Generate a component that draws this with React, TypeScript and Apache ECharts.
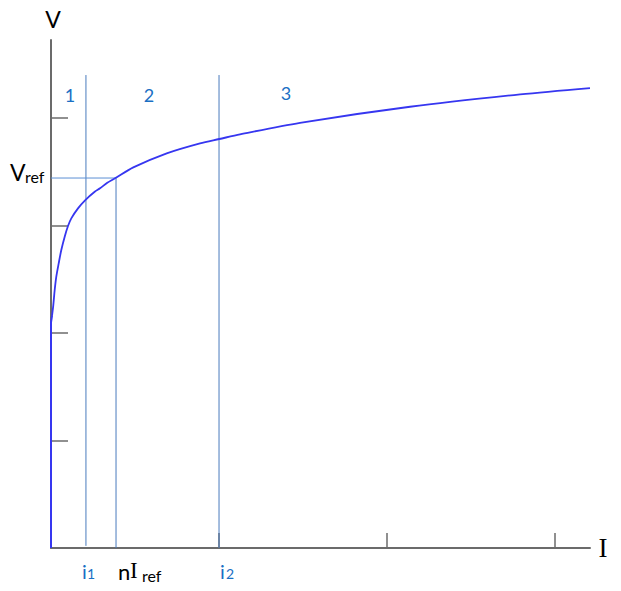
import React, { useEffect, useRef } from "react";
import * as echarts from "echarts";

// Curve V(I) (I in x-tick units, V in y-tick units)
const curveI = [0.006, 0.0137, 0.022, 0.0315, 0.0458, 0.0613, 0.0815, 0.1012, 0.1208, 0.1607, 0.2042, 0.2601, 0.2917, 0.3351, 0.381, 0.4899, 0.6887, 0.8869, 1.0018, 1.125, 1.482, 2.137, 2.792, 3.208];
const curveV = [2.16, 2.26, 2.4, 2.524, 2.648, 2.772, 2.896, 2.995, 3.067, 3.16, 3.237, 3.314, 3.346, 3.398, 3.439, 3.541, 3.672, 3.765, 3.805, 3.848, 3.956, 4.105, 4.22, 4.279];
// vertical drop of the curve along the V axis
const dropI = [0, 0, 0.006];
const dropV = [0, 2.1, 2.16];

const xTicks = [1, 2, 3];
const yTicks = [1, 2, 3, 4];
const xMax = 3.208;
const yMax = 4.726;

const i1 = 0.208;
const nIref = 0.387;
const i2 = 1.0;
const vRef = 3.442;
const lineTop = 4.4;

export default function App() {
  const ref = useRef<HTMLDivElement>(null);
  useEffect(() => {
    if (!ref.current) return;
    const chart = echarts.init(ref.current, undefined, { renderer: "svg" });
    const axisColor = "#6b6b6b";
    const guide = "#4a7bbd";
    const blueText = "#1a6fc4";
    const sans = "Lato, 'Open Sans', sans-serif";
    const serif = "'Liberation Serif', 'DejaVu Serif', serif";
    const vline = (x: number, y0: number, y1: number, color: string) => ({
      type: "line",
      data: [[x, y0], [x, y1]],
      symbol: "none",
      silent: true,
      lineStyle: { color, width: 1 },
      z: 1,
    });
    chart.setOption({
      animation: false,
      backgroundColor: "#ffffff",
      grid: { left: 51, right: 31, top: 40, bottom: 43 },
      xAxis: {
        type: "value",
        min: 0,
        max: xMax,
        splitLine: { show: false },
        axisLine: { show: true, lineStyle: { color: axisColor, width: 2 } },
        axisTick: { show: true, inside: true, length: 15, customValues: xTicks, lineStyle: { color: axisColor, width: 1.5 } },
        axisLabel: { show: false },
      },
      yAxis: {
        type: "value",
        min: 0,
        max: yMax,
        splitLine: { show: false },
        axisLine: { show: true, lineStyle: { color: axisColor, width: 2 } },
        axisTick: { show: true, inside: true, length: 17, customValues: yTicks, lineStyle: { color: axisColor, width: 1.5 } },
        axisLabel: { show: false },
      },
      series: [
        vline(i1, 0.02, lineTop, guide),
        vline(nIref, 0, vRef, guide),
        vline(i2, 0, lineTop, guide),
        {
          type: "line",
          data: [[0, vRef], [nIref, vRef]],
          symbol: "none",
          silent: true,
          lineStyle: { color: "#5b8fd4", width: 1 },
          z: 1,
        },
        {
          type: "line",
          data: dropI.map((x, k) => [x, dropV[k]]),
          symbol: "none",
          silent: true,
          lineStyle: { color: "#3636f0", width: 2 },
          z: 3,
        },
        {
          type: "line",
          data: curveI.map((x, k) => [x, curveV[k]]),
          symbol: "none",
          smooth: 0.3,
          silent: true,
          lineStyle: { color: "#3636f0", width: 1.8 },
          z: 3,
        },
      ],
      graphic: [
        { type: "text", x: 53, y: 19, style: { text: "V", fill: "#000", fontSize: 23, fontFamily: sans, align: "center", verticalAlign: "middle" } },
        { type: "text", x: 603, y: 548, style: { text: "I", fill: "#000", fontSize: 27, fontFamily: serif, align: "center", verticalAlign: "middle" } },
        { type: "text", x: 70, y: 95, style: { text: "1", fill: blueText, fontSize: 18, fontFamily: sans, align: "center", verticalAlign: "middle" } },
        { type: "text", x: 149, y: 95, style: { text: "2", fill: blueText, fontSize: 18, fontFamily: sans, align: "center", verticalAlign: "middle" } },
        { type: "text", x: 286, y: 93, style: { text: "3", fill: blueText, fontSize: 18, fontFamily: sans, align: "center", verticalAlign: "middle" } },
        // Vref
        { type: "text", x: 10, y: 172, style: { text: "V", fill: "#000", fontSize: 23, fontFamily: sans, align: "left", verticalAlign: "middle" } },
        { type: "text", x: 25, y: 176, style: { text: "ref", fill: "#000", fontSize: 16, fontFamily: sans, align: "left", verticalAlign: "middle" } },
        // nIref
        { type: "text", x: 118, y: 571, style: { text: "n", fill: "#000", fontSize: 22, fontFamily: sans, align: "left", verticalAlign: "middle" } },
        { type: "text", x: 130, y: 570, style: { text: "I", fill: "#000", fontSize: 23, fontFamily: serif, align: "left", verticalAlign: "middle" } },
        { type: "text", x: 142, y: 575, style: { text: "ref", fill: "#000", fontSize: 16, fontFamily: sans, align: "left", verticalAlign: "middle" } },
        // i1, i2
        { type: "text", x: 82, y: 571, style: { text: "i", fill: blueText, fontSize: 20, fontFamily: sans, align: "left", verticalAlign: "middle" } },
        { type: "text", x: 87, y: 573, style: { text: "1", fill: blueText, fontSize: 14, fontFamily: sans, align: "left", verticalAlign: "middle" } },
        { type: "text", x: 220, y: 571, style: { text: "i", fill: blueText, fontSize: 20, fontFamily: sans, align: "left", verticalAlign: "middle" } },
        { type: "text", x: 226, y: 573, style: { text: "2", fill: blueText, fontSize: 14, fontFamily: sans, align: "left", verticalAlign: "middle" } },
      ],
    });
    return () => chart.dispose();
  }, []);
  return <div ref={ref} style={{ width: 621, height: 591, position: "absolute", left: 0, top: 0 }} />;
}
